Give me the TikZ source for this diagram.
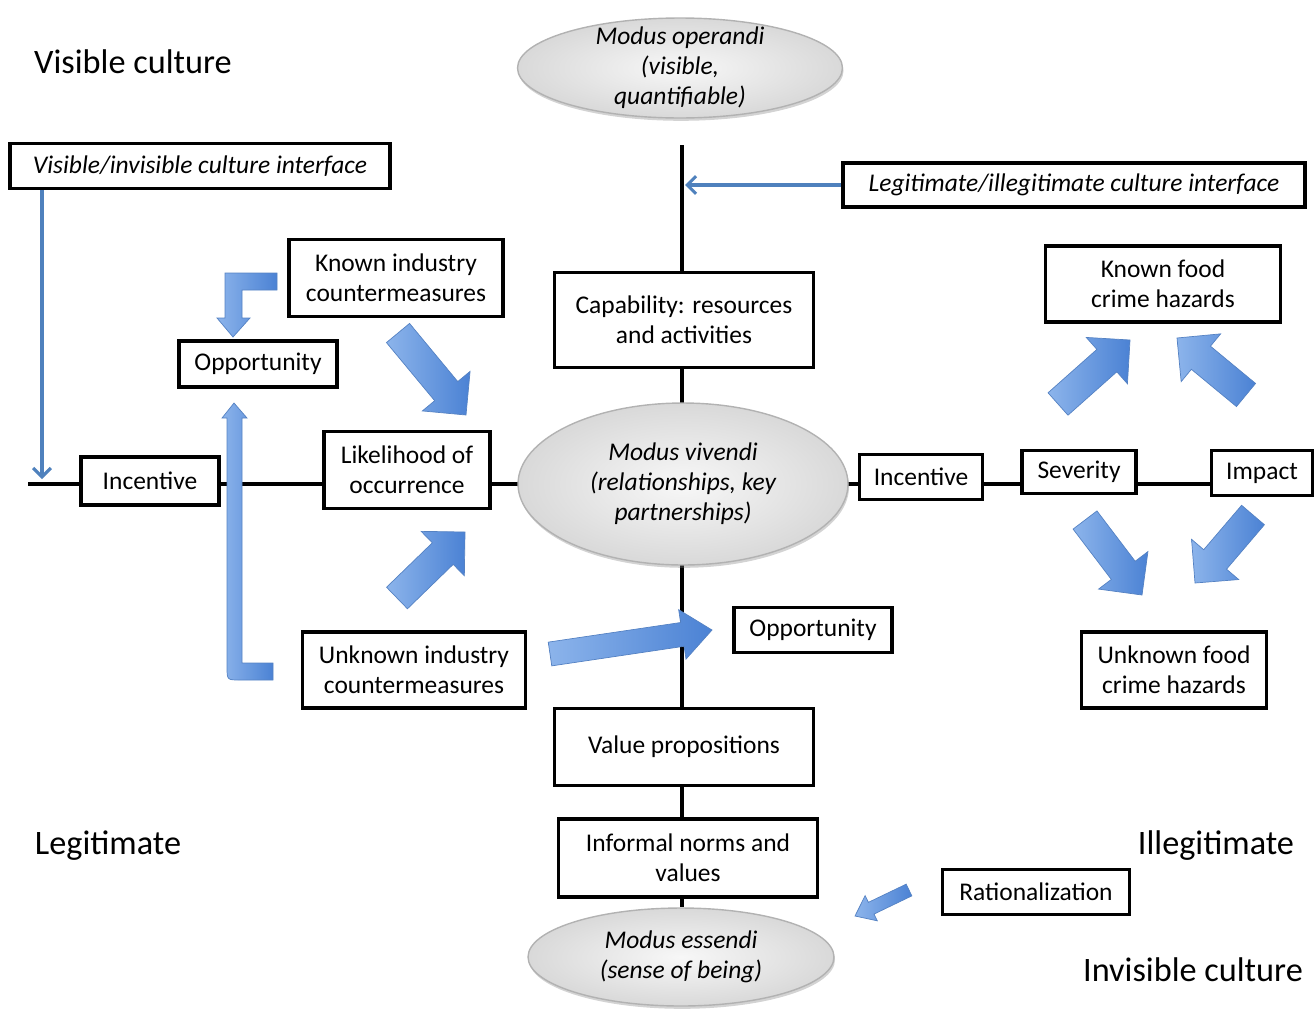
\documentclass[tikz,border=0pt]{standalone}
\usepackage{fontspec}
\setmainfont{Carlito}
\usepackage{tikz}
\usetikzlibrary{positioning, calc, arrows.meta, shapes.geometric, backgrounds, shadows}

\definecolor{linkblue}{RGB}{79,129,189}
\definecolor{arrowlight}{RGB}{140,180,235}
\definecolor{arrowdark}{RGB}{75,130,212}
\definecolor{arrowedge}{RGB}{85,130,195}

\newcommand{\boxfont}{\fontsize{14.5pt}{17pt}\selectfont}
% tail, tip, half shaft width, half head width, head length
\newcommand{\blockarrow}[5]{%
  \path[bigarrow] let \p1=($(#2)-(#1)$), \n1={atan2(\y1,\x1)} in
    ($(#1)+(\n1+90:#3)$) -- ($(#2)+(\n1+180:#5)+(\n1+90:#3)$)
    -- ($(#2)+(\n1+180:#5)+(\n1+90:#4)$) -- (#2)
    -- ($(#2)+(\n1+180:#5)+(\n1-90:#4)$) -- ($(#2)+(\n1+180:#5)+(\n1-90:#3)$)
    -- ($(#1)+(\n1-90:#3)$) -- cycle;}

\begin{document}
\begin{tikzpicture}[
			x=0.02cm, y=-0.02cm,
			box/.style={rectangle, draw, line width=2pt, fill=white, align=center, font=\boxfont, inner sep=2pt},
			oval/.style={ellipse, draw=gray!60, line width=0.8pt, inner color=gray!6, outer color=gray!30, align=center, font=\boxfont\itshape, inner xsep=0pt, inner ysep=-10pt, drop shadow={shadow xshift=0.6pt, shadow yshift=-1.6pt, opacity=0.35}},
			corner/.style={font=\fontsize{19.5pt}{23pt}\selectfont},
			axis/.style={line width=2pt},
			thinarrow/.style={draw=linkblue, line width=1.8pt, -{Straight Barb[length=5pt, width=10pt]}},
			bigarrow/.style={left color=arrowlight, right color=arrowdark, draw=arrowedge, line width=0.4pt}
			]
			\useasboundingbox (0,0) rectangle (1314,1008);
			
			% Corner captions
			\node (viscult) [corner] at (133,62) {Visible culture};
			\node (legit) [corner] at (108,846) {Legitimate};
			\node (illegit) [corner] at (1216,846) {Illegitimate};
			\node (inviscult) [corner] at (1193,970) {Invisible culture};
			
			% Modus nodes
			\node (operandi) [oval, minimum width=6.5cm, minimum height=2cm] at (680,68) {Modus operandi\\(visible,\\quantifiable)};
			\node (vivendi) [oval, minimum width=6.6cm, minimum height=3.24cm] at (683,484) {Modus vivendi\\(relationships, key\\partnerships)};
			\node (essendi) [oval, minimum width=6.12cm, minimum height=1.96cm] at (681,957) {Modus essendi\\(sense of being)};
			
			% Interface boxes
			\node (visiface) [box, minimum width=7.6cm, minimum height=0.9cm, font=\boxfont\itshape] at (200,166) {Visible/invisible culture interface};
			\node (legiface) [box, minimum width=9.24cm, minimum height=0.88cm, font=\boxfont\itshape] at (1074,185) {Legitimate/illegitimate culture interface};
			
			% Left (legitimate) side
			\node (knownind) [box, minimum width=4.28cm, minimum height=1.54cm] at (396,278) {Known industry\\countermeasures};
			\node (oppleft) [box, minimum width=3.16cm, minimum height=0.92cm] at (258,364) {Opportunity};
			\node (incleft) [box, minimum width=2.76cm, minimum height=0.96cm] at (150,481) {Incentive};
			\node (likely) [box, minimum width=3.32cm, minimum height=1.54cm] at (407,470) {Likelihood of\\occurrence};
			\node (unknownind) [box, minimum width=4.46cm, minimum height=1.52cm] at (414,670) {Unknown industry\\countermeasures};
			
			% Central column
			\node (capab) [box, minimum width=5.18cm, minimum height=1.9cm] at (684,320) {Capability: resources\\and activities};
			\node (valueprop) [box, minimum width=5.18cm, minimum height=1.54cm] at (684,747) {Value propositions};
			\node (informal) [box, minimum width=5.18cm, minimum height=1.56cm, below=0.6cm of valueprop, xshift=0.08cm] {Informal norms and\\values};
			\node (oppmid) [box, minimum width=3.16cm, minimum height=0.9cm] at (813,630) {Opportunity};
			
			% Right (illegitimate) side
			\node (incright) [box, minimum width=2.46cm, minimum height=0.9cm] at (921,477) {Incentive};
			\node (severity) [box, minimum width=2.28cm, minimum height=0.86cm] at (1079,472) {Severity};
			\node (impact) [box, minimum width=2.02cm, minimum height=0.9cm] at (1262,473) {Impact};
			\node (knownfood) [box, minimum width=4.7cm, minimum height=1.52cm] at (1163,284) {Known food\\crime hazards};
			\node (unknownfood) [box, minimum width=3.7cm, minimum height=1.52cm] at (1174,670) {Unknown food\\crime hazards};
			\node (rational) [box, minimum width=3.74cm, minimum height=0.9cm] at (1036,892) {Rationalization};
			
			% Axes behind everything
			\coordinate (hleft) at (28,484);
			\coordinate (vtop) at (682,145);
			\begin{scope}[on background layer]
				\draw [axis] (hleft) -- (impact.center |- hleft);
				\draw [axis] (vtop) -- (vtop |- essendi.north);
			\end{scope}
			
			% Interface arrows
			\coordinate (vishit) at (42,479);
			\coordinate (leghit) at (685,185);
			\draw [thinarrow] (visiface.south -| vishit) -- (vishit);
			\draw [thinarrow] (legiface.west) -- (leghit);
			
			% Block arrows
			\coordinate (kc1) at (398,333); \coordinate (kc2) at (466,415);
			\coordinate (uc1) at (397,598); \coordinate (uc2) at (465,532);
			\coordinate (uo1) at (550,654); \coordinate (uo2) at (712,630);
			\coordinate (sa1) at (1058,404); \coordinate (sa2) at (1130,340);
			\coordinate (ia1) at (1246,395); \coordinate (ia2) at (1177,338);
			\coordinate (sb1) at (1085,520); \coordinate (sb2) at (1142,595);
			\coordinate (ib1) at (1253,515); \coordinate (ib2) at (1195,583);
			\coordinate (ra1) at (909,890); \coordinate (ra2) at (855,916);
			\blockarrow{kc1}{kc2}{0.3cm}{0.62cm}{0.62cm}
			\blockarrow{uc1}{uc2}{0.3cm}{0.62cm}{0.62cm}
			\blockarrow{uo1}{uo2}{0.24cm}{0.5cm}{0.6cm}
			\blockarrow{sa1}{sa2}{0.3cm}{0.62cm}{0.62cm}
			\blockarrow{ia1}{ia2}{0.3cm}{0.62cm}{0.62cm}
			\blockarrow{sb1}{sb2}{0.3cm}{0.62cm}{0.62cm}
			\blockarrow{ib1}{ib2}{0.3cm}{0.62cm}{0.62cm}
			\blockarrow{ra1}{ra2}{0.13cm}{0.28cm}{0.36cm}
			
			% Bent arrows into the left Opportunity
			\path [bigarrow] (277,273) -- (225,273) -- (225,318) -- (217,318) -- (233,337) -- (250,318) -- (242,318) -- (242,290) -- (277,290) -- cycle;
			\path [bigarrow] (234,403) -- (247,418) -- (242,418) -- (242,663) -- (273,663) -- (273,680) -- (240,680) .. controls (227,680) .. (227,667) -- (227,418) -- (222,418) -- cycle;
		\end{tikzpicture}
\end{document}
